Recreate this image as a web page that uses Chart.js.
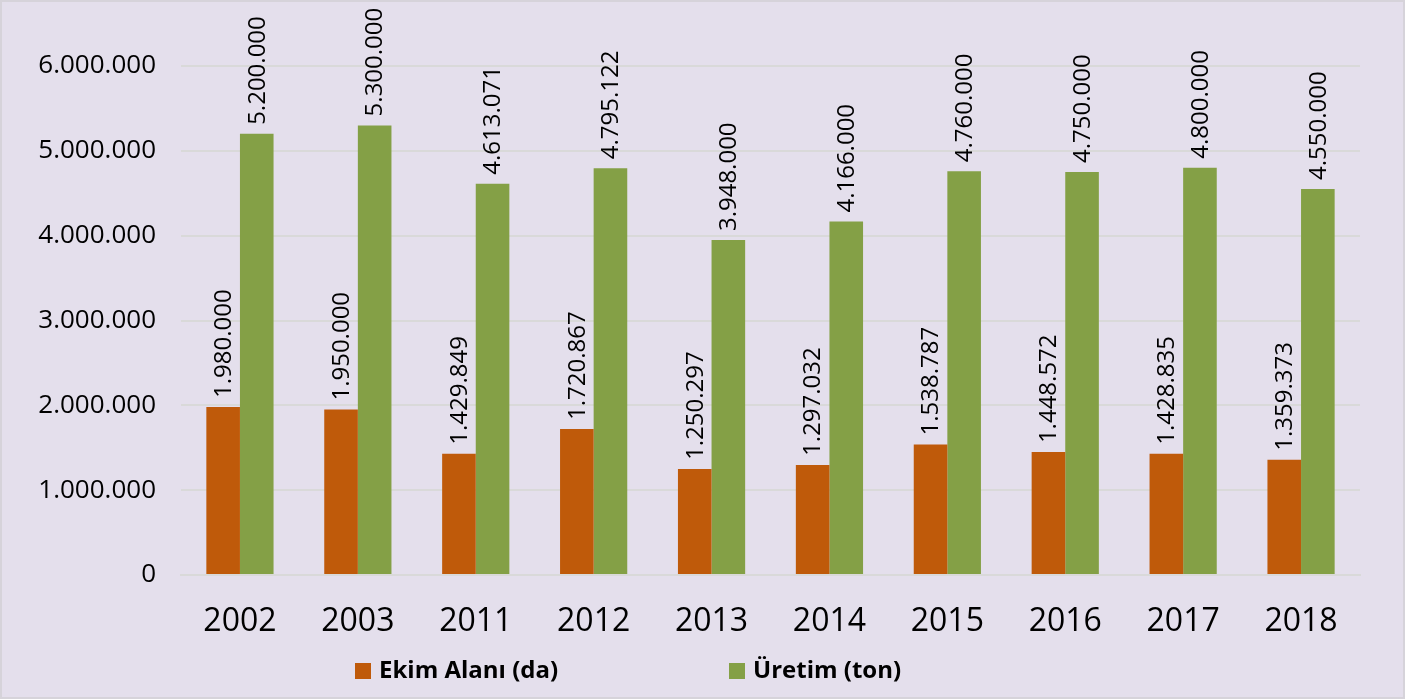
<!DOCTYPE html>
<html>
<head>
<meta charset="utf-8">
<script src="https://cdn.jsdelivr.net/npm/chart.js@4/dist/chart.umd.min.js"></script>
<style>
  html, body { margin: 0; padding: 0; background: #E4DFEC; }
  #wrap { width: 1405px; height: 699px; box-sizing: border-box; border: 2px solid #D6D3DA; }
</style>
</head>
<body>
<div id="wrap"><canvas id="chart" width="1401" height="695"></canvas></div>
<script>
const years = ["2002", "2003", "2011", "2012", "2013", "2014", "2015", "2016", "2017", "2018"];
const ekimAlani = [1980000, 1950000, 1429849, 1720867, 1250297, 1297032, 1538787, 1448572, 1428835, 1359373];
const uretim = [5200000, 5300000, 4613071, 4795122, 3948000, 4166000, 4760000, 4750000, 4800000, 4550000];
const yTicks = [0, 1000000, 2000000, 3000000, 4000000, 5000000, 6000000];

const fontFamily = "'Open Sans', 'Noto Sans', sans-serif";

function fmt(v) {
  return String(v).replace(/\B(?=(\d{3})+(?!\d))/g, ".");
}

// rotated value labels above bars
const valueLabels = {
  id: "valueLabels",
  afterDatasetsDraw(chart) {
    const ctx = chart.ctx;
    ctx.save();
    ctx.font = "24px " + fontFamily;
    ctx.fillStyle = "#000";
    ctx.textAlign = "left";
    ctx.textBaseline = "middle";
    chart.data.datasets.forEach((ds, i) => {
      chart.getDatasetMeta(i).data.forEach((bar, j) => {
        ctx.save();
        ctx.translate(bar.x + 1, bar.y - 9);
        ctx.rotate(-Math.PI / 2);
        ctx.fillText(fmt(ds.data[j]), 0, 0);
        ctx.restore();
      });
    });
    ctx.restore();
  }
};

// legend drawn at the bottom with wide spacing
const bottomLegend = {
  id: "bottomLegend",
  afterDraw(chart) {
    const ctx = chart.ctx;
    const xs = [353, 727];
    const y = 669;
    ctx.save();
    ctx.font = "bold 24px " + fontFamily;
    ctx.textBaseline = "middle";
    ctx.textAlign = "left";
    chart.data.datasets.forEach((ds, i) => {
      ctx.fillStyle = ds.backgroundColor;
      ctx.fillRect(xs[i], y - 8, 16, 16);
      ctx.fillStyle = "#000";
      ctx.fillText(ds.label, xs[i] + 24, y);
    });
    ctx.restore();
  }
};

new Chart(document.getElementById("chart"), {
  type: "bar",
  data: {
    labels: years,
    datasets: [
      { label: "Ekim Alanı (da)", data: ekimAlani, backgroundColor: "#BF5A0A" },
      { label: "Üretim (ton)", data: uretim, backgroundColor: "#84A046" }
    ]
  },
  options: {
    responsive: false,
    animation: false,
    layout: { padding: { left: 0, right: 43, top: 64, bottom: 0 } },
    plugins: {
      legend: { display: false },
      tooltip: { enabled: false }
    },
    datasets: {
      bar: { categoryPercentage: 0.57, barPercentage: 1.0 }
    },
    scales: {
      x: {
        grid: { display: false },
        border: { color: "#D9D9D9", width: 2 },
        ticks: { color: "#000", font: { size: 32, family: fontFamily }, padding: 20 },
        afterFit(scale) { scale.height = 122; }
      },
      y: {
        min: 0,
        max: 6000000,
        afterBuildTicks(scale) { scale.ticks = yTicks.map(v => ({ value: v })); },
        grid: { color: "#D9D9D9", lineWidth: 2, drawTicks: false },
        border: { display: false },
        ticks: {
          color: "#000",
          font: { size: 26, family: fontFamily },
          padding: 25,
          callback: v => fmt(v)
        },
        afterFit(scale) { scale.width = 179; }
      }
    }
  },
  plugins: [valueLabels, bottomLegend]
});
</script>
</body>
</html>
